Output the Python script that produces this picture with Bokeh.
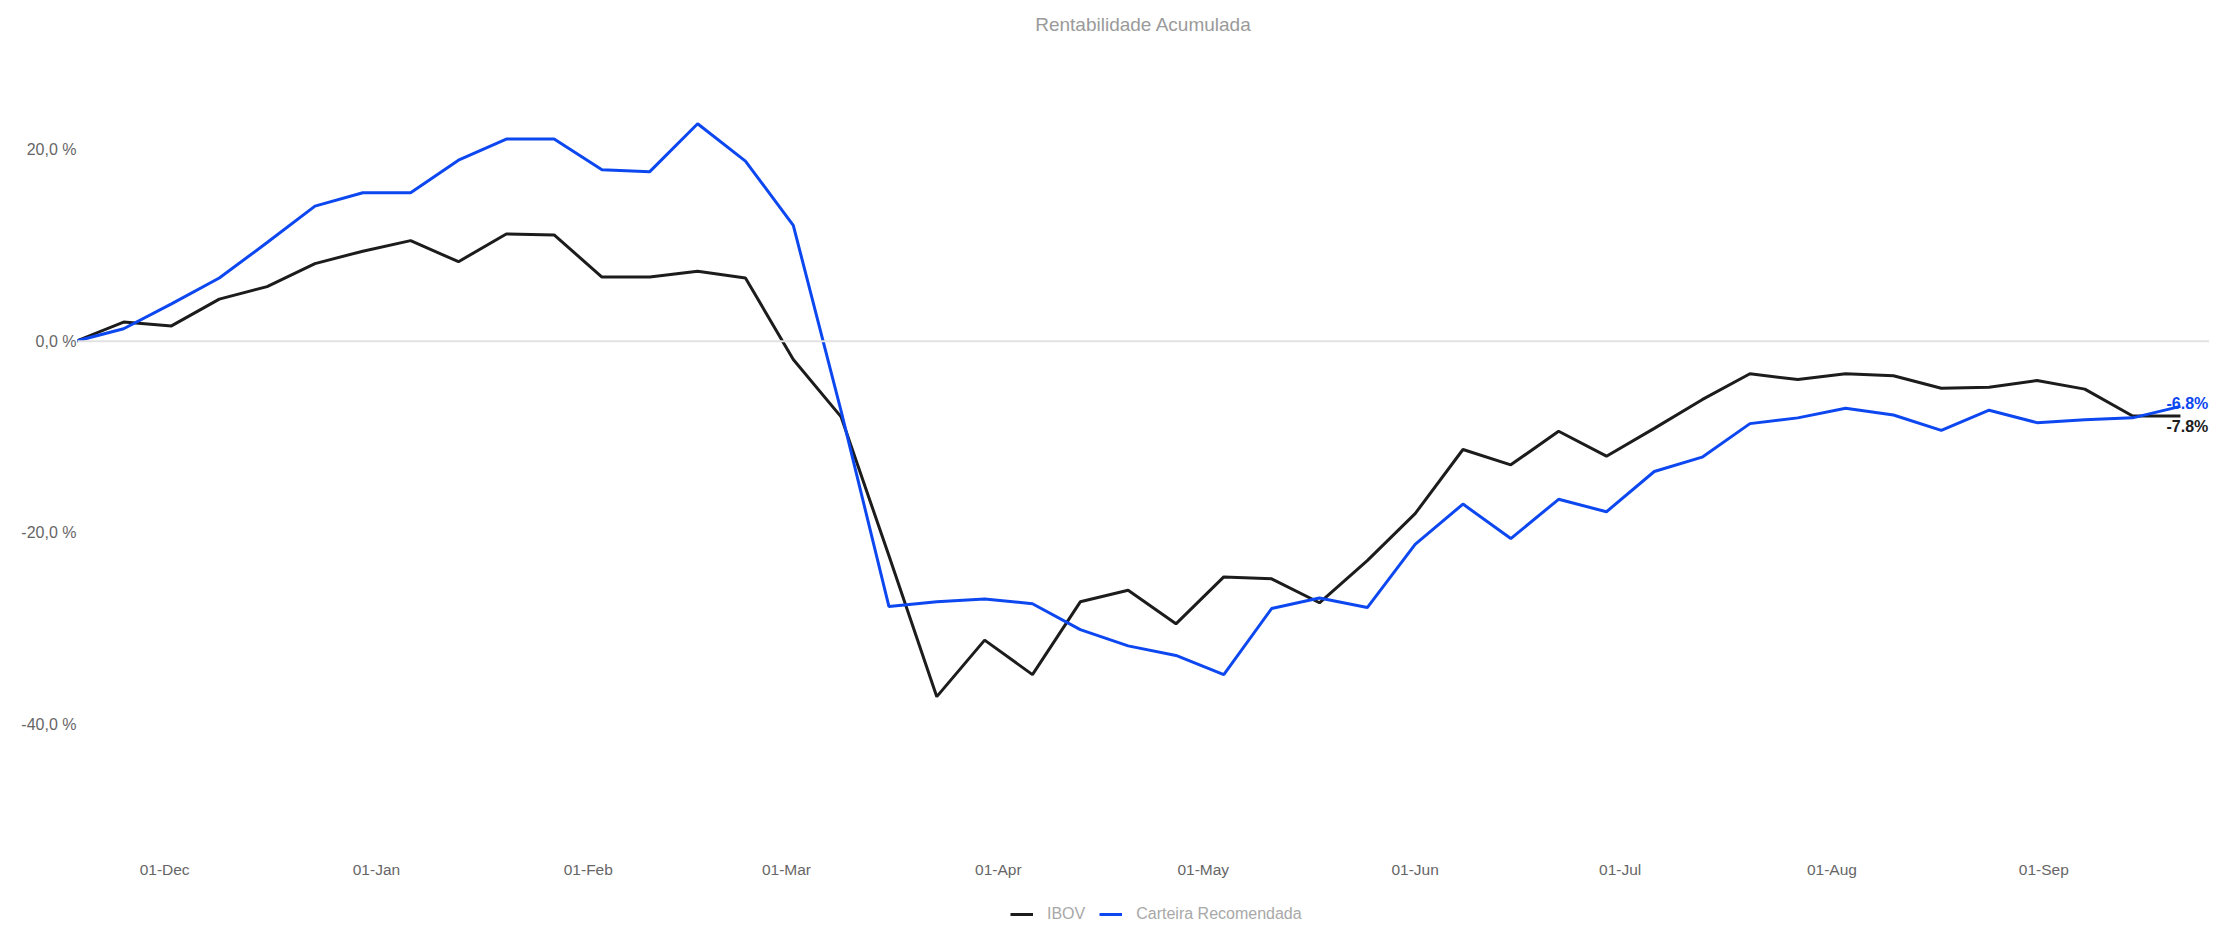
import pandas as pd
from bokeh.plotting import figure
from bokeh.layouts import column
from bokeh.models import (Range1d, FixedTicker, Span, Legend, LegendItem,
                          DatetimeTickFormatter, ColumnDataSource)
from bokeh.core.properties import value
from bokeh.embed import file_html
from bokeh.resources import INLINE

# ---- data ----
start_date = "2019-11-18"
n_weeks = 45
ibov = [0.0, 2.0, 1.6, 4.4, 5.7, 8.1, 9.4, 10.5, 8.3, 11.2, 11.1, 6.7, 6.7, 7.3, 6.6, -1.9,
        -7.9, -22.4, -37.1, -31.2, -34.8, -27.2, -26.0, -29.5, -24.6, -24.8, -27.3, -22.9,
        -18.0, -11.3, -12.9, -9.4, -12.0, -9.1, -6.1, -3.4, -4.0, -3.4, -3.6, -4.9, -4.8,
        -4.1, -5.0, -7.8, -7.8]
carteira = [0.0, 1.3, 3.9, 6.6, 10.3, 14.1, 15.5, 15.5, 18.9, 21.1, 21.1, 17.9, 17.7, 22.7,
            18.8, 12.1, -7.3, -27.7, -27.2, -26.9, -27.4, -30.1, -31.8, -32.8, -34.8, -27.9,
            -26.8, -27.8, -21.2, -17.0, -20.6, -16.5, -17.8, -13.6, -12.1, -8.6, -8.0, -7.0,
            -7.7, -9.3, -7.2, -8.5, -8.2, -8.0, -6.8]
series_names = ["IBOV", "Carteira Recomendada"]
series_colors = ["#1c1c1c", "#0d47f0"]
y_ticks = [20, 0, -20, -40]
y_tick_labels = ["20,0 %", "0,0 %", "-20,0 %", "-40,0 %"]
month_ticks = ["2019-12-01", "2020-01-01", "2020-02-01", "2020-03-01", "2020-04-01",
               "2020-05-01", "2020-06-01", "2020-07-01", "2020-08-01", "2020-09-01"]
title_text = "Rentabilidade Acumulada"

dates = pd.date_range(start=start_date, periods=n_weeks, freq="7D")

FONT = "Liberation Sans"
W = 2209

p = figure(width=W, height=898, output_backend="svg", toolbar_location=None,
           x_axis_type="datetime",
           x_range=Range1d(pd.Timestamp("2019-11-18 06:00"), pd.Timestamp("2020-09-25 06:00")),
           y_range=Range1d(-53.16, 30.87),
           min_border_left=77, min_border_right=0, min_border_top=45, min_border_bottom=48,
           title=title_text)
p.outline_line_color = None
p.background_fill_color = "white"
p.border_fill_color = "white"

p.title.align = "center"
p.title.text_font = FONT
p.title.text_font_size = "19px"
p.title.text_font_style = "normal"
p.title.text_color = "#9a9a9a"
p.title.standoff = 22

p.xgrid.visible = False
p.ygrid.visible = False

zero = Span(location=0, dimension="width", line_color="#e2e2e2", line_width=2)
p.add_layout(zero)

# axes
xa = p.xaxis[0]
xa.ticker = FixedTicker(ticks=[pd.Timestamp(d).value / 1e6 for d in month_ticks])
fmt = "%d-%b"
xa.formatter = DatetimeTickFormatter(milliseconds=fmt, seconds=fmt, minsec=fmt, minutes=fmt,
                                     hourmin=fmt, hours=fmt, days=fmt, months=fmt, years=fmt)
xa.axis_line_color = None
xa.major_tick_line_color = None
xa.minor_tick_line_color = None
xa.major_tick_out = 0
xa.major_label_standoff = 10
xa.major_label_text_font = FONT
xa.major_label_text_font_size = "15.5px"
xa.major_label_text_color = "#666666"

ya = p.yaxis[0]
ya.ticker = FixedTicker(ticks=y_ticks)
ya.major_label_overrides = {t: l for t, l in zip(y_ticks, y_tick_labels)}
ya.axis_line_color = None
ya.major_tick_line_color = None
ya.minor_tick_line_color = None
ya.major_tick_out = 0
ya.major_label_standoff = 1
ya.major_label_text_font = FONT
ya.major_label_text_font_size = "16px"
ya.major_label_text_color = "#666666"

for vals, name, col in zip([ibov, carteira], series_names, series_colors):
    src = ColumnDataSource(dict(x=dates, y=vals))
    p.line("x", "y", source=src, line_color=col, line_width=3)

# end labels
end_offsets = [11, -3]
for vals, col, yo in zip([ibov, carteira], series_colors, end_offsets):
    src = ColumnDataSource(dict(x=[dates[-1]], y=[vals[-1]], t=[f"{vals[-1]:.1f}%"]))
    p.text("x", "y", text="t", source=src, text_color=col, text_font=value(FONT),
           text_font_size="16px", text_font_style="bold", text_baseline="middle",
           text_align="left", x_offset=-14, y_offset=yo)

# legend strip below the chart (series drawn out of view, only legend glyphs show)
lg = figure(width=W, height=26, output_backend="svg", toolbar_location=None,
            x_axis_type="datetime", x_axis_location=None, y_axis_location=None,
            x_range=Range1d(dates[0], dates[-1]), y_range=Range1d(1000, 1001),
            min_border_left=0, min_border_right=0, min_border_top=0, min_border_bottom=0)
lg.grid.visible = False
lg.outline_line_color = None
lg.background_fill_color = "white"
lg.border_fill_color = "white"
items = []
for vals, name, col in zip([ibov, carteira], series_names, series_colors):
    r = lg.line(x=dates, y=vals, line_color=col, line_width=3)
    items.append(LegendItem(label=name, renderers=[r]))
legend = Legend(items=items, orientation="horizontal", location=(933, 1))
legend.label_text_font = FONT
legend.label_text_font_size = "16px"
legend.label_text_color = "#a8a8a8"
legend.border_line_color = None
legend.background_fill_alpha = 0
legend.glyph_width = 23
legend.glyph_height = 16
legend.spacing = 14
legend.label_standoff = 14
legend.padding = 0
legend.margin = 0
lg.add_layout(legend, "center")

layout = column(p, lg, spacing=0)
open("out.html", "w").write(file_html(layout, INLINE))
